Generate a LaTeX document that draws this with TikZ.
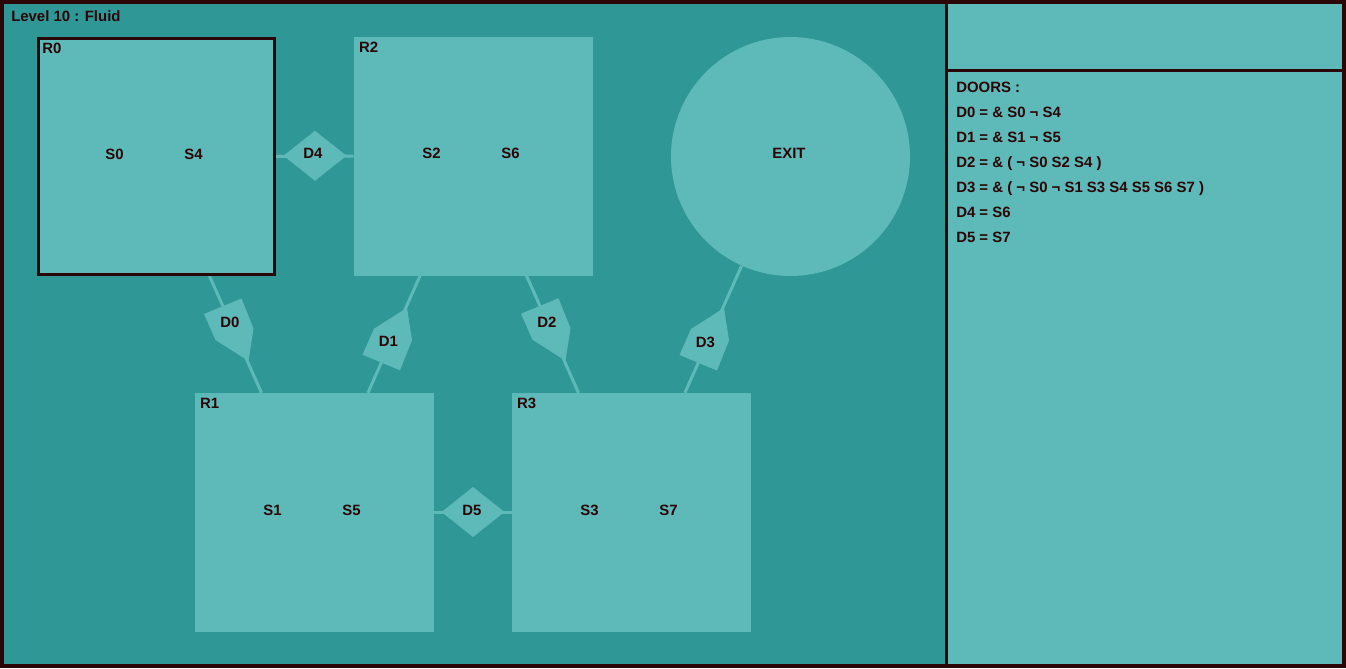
\documentclass[tikz,border=0pt]{standalone}
\usepackage{fontspec}
\setmainfont{Liberation Sans}
\usetikzlibrary{calc,positioning,backgrounds}
\definecolor{ink}{RGB}{42,6,6}
\definecolor{sea}{RGB}{47,152,150}
\definecolor{lite}{RGB}{94,185,185}

\begin{document}
\begin{tikzpicture}[x=0.75pt,y=-0.75pt,
        font=\fontsize{11.2}{13}\selectfont\bfseries,text=ink,
        room/.style={rectangle,fill=lite,minimum size=179.25pt,inner sep=0pt},
        lbl/.style={inner sep=0pt},
        link/.style={draw=lite,line width=2.25pt},
        pics/flatdoor/.style={code={\fill[lite] (-31.5,0) -- (0,-25) -- (31.5,0) -- (0,25) -- cycle;}},
        pics/tiltdoor/.style={code={\fill[lite] (-31.5,-20.5) -- (6,-36) -- (18,-6) -- (13,26.5) -- (-20,5.5) -- cycle;}}]
        \useasboundingbox (0,0) rectangle (1346,668);

        \node[room] (R2) at (473.5,156) {};
        \node[room,draw=ink,line width=2.25pt,minimum size=177pt] (R0) at (156.5,156.5) {};
        \node[room] (R1) at (314.5,512.5) {};
        \node[room] (R3) at (631.5,512.5) {};
        \node[circle,fill=lite,minimum size=179.25pt,inner sep=0pt] (EXIT) at (790.5,156.5) {};

        \begin{scope}[on background layer]
            \fill[ink] (0,0) rectangle (1346,668);
            \fill[sea] (4,4) rectangle (945,664);
            \fill[lite] (948,4) rectangle (1342,69);
            \fill[lite] (948,72) rectangle (1342,664);
            \foreach \a/\b in {R0/R2, R0/R1, R2/R1, R2/R3, EXIT/R3, R1/R3}{
                \draw[link] (\a) -- (\b);
            }
        \end{scope}

        \foreach \a/\b/\d/\f/\dy in {R0/R1/D0/1/-12, R2/R1/D1/-1/7.5, R2/R3/D2/1/-12, EXIT/R3/D3/-1/7.5}{
            \pic[yscale=\f] at ($(\a)!0.5!(\b)$) {tiltdoor};
            \node[lbl] (\d) at ($(\a)!0.5!(\b)+(-5.5,\dy)$) {\d};
        }
        \foreach \a/\b/\d/\dx in {R0/R2/D4/-2, R1/R3/D5/-1}{
            \pic at ($(\a)!0.5!(\b)+(0,-0.5)$) {flatdoor};
            \node[lbl] (\d) at ($(\a)!0.5!(\b)+(\dx,-2.5)$) {\d};
        }

        \foreach \r/\l/\s in {R0/S0/S4, R2/S2/S6, R1/S1/S5, R3/S3/S7}{
            \node[lbl,anchor=north west] (\r name) at ($(\r.north west)+(5,5.5)$) {\r};
            \node[lbl] (\l) at ($(\r)+(-42,-2.5)$) {\l};
            \node[lbl] (\s) at ($(\r)+(37,-2.5)$) {\s};
        }
        \node[lbl] (exitname) at ($(EXIT)+(-1.5,-3)$) {EXIT};

        \node[lbl,anchor=base west] (title) at (11,21) {Level 10 : Fluid};
        \foreach \t [count=\i from 0] in {DOORS :, D0 = \& S0 ¬ S4, D1 = \& S1 ¬ S5, D2 = \& ( ¬ S0 S2 S4 ), D3 = \& ( ¬ S0 ¬ S1 S3 S4 S5 S6 S7 ), D4 = S6, D5 = S7}{
            \node[lbl,anchor=base west] (line\i) at (956,{92+25*\i}) {\t};
        }
    \end{tikzpicture}
\end{document}
